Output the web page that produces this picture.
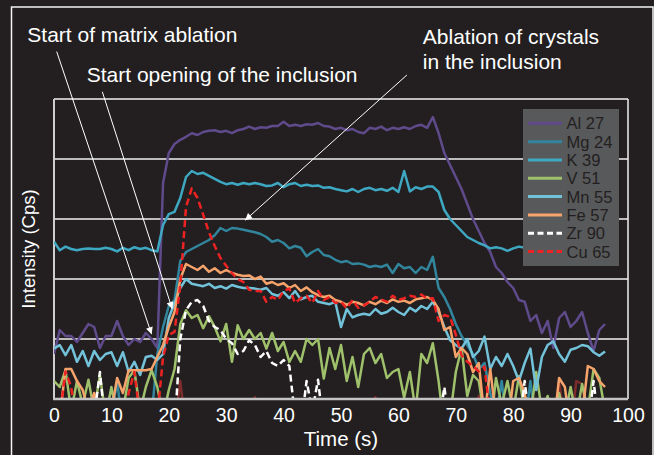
<!DOCTYPE html>
<html>
<head>
<meta charset="utf-8">
<script src="https://cdn.jsdelivr.net/npm/d3@7"></script>
<style>
  body { margin: 0; background: #231f20; }
  svg { display: block; font-family: "Liberation Sans", Arial, Helvetica, sans-serif; }
</style>
</head>
<body>
<script>
const {select, scaleLinear, line, range, axisBottom} = d3;

const width = 654;
const height = 455;
const margin = {top: 99, right: 26, bottom: 56, left: 54};

// time axis (s), one reading per second
const time = range(0, 97);
const xTicks = [0, 10, 20, 30, 40, 50, 60, 70, 80, 90, 100];
// gridlines are decades of cps (log10)
const decades = [0, 1, 2, 3, 4, 5];

// log10 intensity per second; negative = below the axis (no signal)
const al = [
  0.75, 1.15, 1.05, 1.05, 0.95, 1.1, 1.25, 1.2, 0.85, 1.05,
  1.05, 1.3, 1.05, 0.9, 1.0, 0.95, 1.1, 1.0, 0.85, 3.6,
  4.1, 4.25, 4.32, 4.37, 4.43, 4.4, 4.45, 4.47, 4.48, 4.45,
  4.47, 4.43, 4.48, 4.5, 4.54, 4.5, 4.53, 4.52, 4.55, 4.55,
  4.62, 4.55, 4.57, 4.55, 4.58, 4.57, 4.6, 4.55, 4.54, 4.5,
  4.52, 4.48, 4.5, 4.45, 4.43, 4.52, 4.5, 4.54, 4.48, 4.52,
  4.5, 4.53, 4.5, 4.55, 4.57, 4.52, 4.7, 4.43, 4.1, 3.9,
  3.7, 3.5, 3.25, 3.0, 2.8, 2.6, 2.45, 2.2, 2.1, 1.95,
  1.85, 1.65, 1.62, 1.3, 1.4, 1.1, 1.3, 0.85, 1.35, 1.45,
  1.2, 1.3, 1.45, 1.1, 0.8, 1.15, 1.25
];
const mg = [
  -0.5, -0.5, -0.5, -0.5, -0.5, -0.5, -0.5, -0.5, -0.5, -0.5,
  -0.3, 0.3, -0.5, -0.5, -0.5, -0.5, -0.5, -0.3, 0.75, 1.2,
  1.55, 1.65, 2.3, 2.45, 2.5, 2.55, 2.6, 2.65, 2.73, 2.85,
  2.8, 2.85, 2.84, 2.82, 2.8, 2.78, 2.75, 2.7, 2.62, 2.65,
  2.6, 2.51, 2.55, 2.52, 2.38, 2.45, 2.5, 2.4, 2.38, 2.32,
  2.28, 2.3, 2.25, 2.26, 2.24, 2.2, 2.22, 2.2, 2.24, 2.1,
  2.25, 2.18, 2.2, 2.1, 2.2, 2.15, 2.37, 1.85, 1.7, 1.5,
  1.25, 1.05, 0.9, 0.75, 0.5, 0.6, 0.1, -0.3, 0.3, -0.5,
  -0.5, -0.5, -0.5, 0.3, -0.5, -0.5, -0.5, -0.5, -0.5, -0.5,
  -0.5, -0.5, -0.5, -0.5, -0.5, -0.5, -0.5
];
const k = [
  2.62, 2.48, 2.54, 2.5, 2.48, 2.5, 2.51, 2.5, 2.5, 2.52,
  2.5, 2.46, 2.52, 2.48, 2.53, 2.5, 2.52, 2.48, 2.46, 2.9,
  3.08, 3.12, 3.35, 3.7, 3.8, 3.75, 3.77, 3.72, 3.67, 3.62,
  3.58, 3.6, 3.57, 3.6, 3.58, 3.6, 3.58, 3.55, 3.56, 3.6,
  3.53, 3.58, 3.6, 3.55, 3.57, 3.55, 3.56, 3.52, 3.53, 3.5,
  3.48, 3.46, 3.5, 3.45, 3.5, 3.52, 3.48, 3.5, 3.47, 3.52,
  3.45, 3.8, 3.46, 3.53, 3.5, 3.54, 3.54, 3.45, 3.15, 3.0,
  2.9, 2.8, 2.7, 2.65, 2.6, 2.56, 2.51, 2.53, 2.51, 2.47,
  2.51, 2.54, 2.52
];
const v = [
  0.3, 0.2, 0.48, -0.2, 0.3, -0.1, 0.32, -0.2, 0.4, -0.3,
  0.2, -0.3, -0.2, 0.35, 0.48, -0.2, 0.2, 0.48, 0.2, -0.3,
  0.15, 0.5, 1.25, 1.48, 1.35, 1.4, 1.18, 1.38, 1.2, 0.96,
  1.25, 0.62, 1.23, 1.0, 1.15, 1.0, 1.1, 0.84, 1.1, 0.8,
  0.95, 0.62, 0.8, 0.62, 1.0, 0.9, 1.0, 0.34, 0.85, 0.5,
  0.9, 0.3, 0.7, 0.2, 0.75, 0.85, 0.6, 0.75, 0.35, 0.45,
  0.5, 0.02, 0.45, -0.2, 0.75, 0.6, 0.93, 0.3, -0.5, -0.3,
  0.45, 0.85, 0.05, 0.4, 0.3, -0.3, -0.5, 0.35, -0.1, 0.3,
  -0.2, 0.38, -0.2, -0.3, 0.45, -0.2, 0.05, -0.3, 0.1, -0.3,
  0.2, -0.3, 0.25, -0.2, 0.5, 0.35, -0.2
];
const mn = [
  0.84, 0.9, 0.73, 0.9, 0.62, 0.8, 0.55, 0.8, 0.65, 0.75,
  0.78, 0.55, 0.78, 0.45, 0.62, 0.4, 0.7, 0.72, 0.65, 0.75,
  1.35, 1.6, 1.85, 2.0, 1.92, 1.9, 1.88, 1.92, 1.85, 1.88,
  1.84, 1.9, 1.87, 1.85, 1.85, 1.84, 1.82, 1.85, 1.75, 1.72,
  1.78, 1.68, 1.8, 1.66, 1.7, 1.72, 1.62, 1.6, 1.58, 1.62,
  1.2, 1.5, 1.36, 1.4, 1.42, 1.4, 1.5, 1.42, 1.45, 1.52,
  1.45, 1.4, 1.52, 1.46, 1.55, 1.5, 1.62, 1.45, 1.2, 0.98,
  0.9, 0.84, 1.0, 0.7, 0.8, 1.04, 0.5, 0.7, 0.55, 0.75,
  0.55, 0.3, 0.6, 0.84, 0.15, 0.7, 0.9, 0.96, 0.75, 0.62,
  0.82, 0.85, 0.9, 0.88, 0.78, 0.72, 0.79
];
const fe = [
  -0.5, -0.3, 0.5, 0.5, 0.3, 0.15, -0.2, 0.1, -0.3, -0.5,
  -0.2, 0.35, 0.1, 0.48, 0.48, 0.48, 0.48, 0.5, 0.7, 0.9,
  1.2, 1.45, 2.0, 2.25, 2.2, 2.15, 2.22, 2.12, 2.18, 2.1,
  2.15, 2.1, 2.07, 2.05, 2.06, 2.0, 2.04, 1.92, 1.95, 1.9,
  1.93, 1.85, 1.9, 1.8, 1.86, 1.78, 1.73, 1.7, 1.72, 1.65,
  1.62, 1.57, 1.62, 1.6, 1.56, 1.62, 1.58, 1.64, 1.6, 1.66,
  1.62, 1.64, 1.6, 1.66, 1.68, 1.7, 1.65, 1.5, 1.15, 1.2,
  0.7, 0.85, 0.75, 0.45, 0.6, -0.3, 0.5, -0.3, -0.5, -0.5,
  0.3, 0.35, 0.1, -0.5, -0.5, -0.5, -0.5, -0.5, 0.35, 0.2,
  -0.5, -0.5, -0.3, 0.55, 0.5, 0.3, 0.2
];
const zr = [
  -0.5, -0.5, -0.5, -0.5, -0.5, -0.5, -0.5, -0.3, 0.45, -0.5,
  -0.5, -0.5, -0.5, -0.5, -0.5, -0.5, -0.5, -0.5, -0.5, -0.5,
  -0.5, -0.5, 1.0, 1.48, 1.62, 1.65, 1.55, 1.3, 1.2, 1.15,
  1.0, 0.93, 0.75, 0.8, 0.98, 0.9, 0.7, 0.8, 0.6, 0.55,
  0.65, 0.55, -0.3, -0.5, 0.3, -0.2, 0.32, -0.5, -0.5, -0.5,
  -0.5, -0.5, -0.5, -0.5, -0.5, -0.5, -0.5, -0.5, -0.5, -0.5,
  -0.5, -0.5, -0.5, -0.5, -0.5, -0.5, -0.5, -0.5, 0.2, -0.5,
  -0.5, -0.5, -0.5, -0.5, -0.5, -0.5, -0.5, -0.5, -0.5, -0.5,
  -0.5, -0.5, 0.3, -0.5, -0.5, -0.5, -0.5, -0.5, -0.5, -0.5,
  -0.5, -0.5, -0.5, -0.5, 0.3, -0.5, -0.5
];
const cu = [
  -0.5, -0.3, 0.46, 0.2, -0.5, -0.5, -0.5, -0.5, -0.5, -0.5,
  -0.5, -0.5, -0.5, 0.1, 0.45, -0.3, -0.5, -0.5, -0.3, 0.7,
  1.07, 1.12, 1.9, 3.2, 3.51, 3.35, 3.07, 2.78, 2.55, 2.35,
  2.22, 2.1, 2.0, 1.95, 1.82, 1.8, 1.8, 1.62, 1.7, 1.65,
  1.8, 1.84, 1.6, 1.68, 1.72, 1.6, 1.8, 1.65, 1.7, 1.6,
  1.62, 1.51, 1.65, 1.52, 1.56, 1.62, 1.7, 1.66, 1.62, 1.72,
  1.65, 1.68, 1.72, 1.7, 1.74, 1.67, 1.68, 1.3, 1.4, 1.37,
  1.07, 0.73, 0.62, 0.55, 0.46, 0.54, -0.3, -0.5, -0.5, -0.5,
  -0.5, -0.5, -0.5, -0.5, -0.5, -0.5, -0.5, -0.5, -0.5, -0.5,
  -0.5, -0.5, -0.5, -0.5, -0.5, -0.5, -0.5
];
// dark red trace that is not in the legend, mostly under the axis
const unlisted = [
  -0.5, -0.5, -0.5, -0.5, -0.5, -0.5, -0.5, -0.5, -0.5, -0.5,
  -0.5, -0.5, -0.5, -0.5, -0.5, -0.5, -0.5, -0.5, -0.5, -0.5,
  -0.5, -0.5, 0.3, -0.5, -0.5, -0.5, -0.5, -0.5, -0.5, -0.5,
  -0.5, -0.5, -0.5, -0.5, -0.5, 0.03, -0.5, -0.5, -0.5, -0.5,
  -0.5, -0.5, -0.5, -0.5, -0.5, -0.5, -0.5, -0.5, -0.5, -0.5,
  -0.5, -0.5, -0.5, -0.5, -0.5, -0.5, 0.03, -0.5, -0.5, -0.5,
  -0.5, -0.5, -0.5, -0.5, -0.5, -0.5, -0.5, -0.5, -0.5, -0.5,
  -0.5, -0.5, -0.5, -0.5, 0.05, -0.5, -0.5, -0.5, -0.5, -0.5,
  -0.5, -0.5, -0.5, -0.5, -0.5, -0.5, -0.5, -0.5, 0.3, -0.5,
  -0.5, 0.3, 0.25, -0.5, -0.5, -0.5, -0.5
];

const seriesNames = ['Al 27', 'Mg 24', 'K 39', 'V 51', 'Mn 55', 'Fe 57', 'Zr 90', 'Cu 65'];
const seriesValues = [al, mg, k, v, mn, fe, zr, cu];
const seriesColors = ['#5f4a8b', '#31859c', '#3ea8c2', '#9fc16b', '#72c2da', '#f7a36c', '#ffffff', '#ee2222'];
const seriesDashed = [false, false, false, false, false, false, true, true];

// annotations, placed in data units (t, log10 cps)
const notes = [
  {lines: ['Start of matrix ablation'], t: -4.65, v: 5.955, from: [0.47, 5.79], to: [17.0, 1.08]},
  {lines: ['Start opening of the inclusion'], t: 5.7, v: 5.29, from: [8.42, 5.12], to: [20.6, 1.5]},
  {lines: ['Ablation of crystals', 'in the inclusion'], t: 64.26, v: 5.91, from: [61.48, 5.4], to: [33.3, 2.98]}
];

const svg = select('body')
  .append('svg')
  .attr('width', width)
  .attr('height', height);

const x = scaleLinear()
  .domain([0, 100])
  .range([margin.left, width - margin.right]);

const y = scaleLinear()
  .domain([0, 5])
  .range([height - margin.bottom, margin.top]);

// outer frame
svg.append('rect')
  .attr('x', 11.5)
  .attr('y', 7)
  .attr('width', 641.5)
  .attr('height', 470)
  .attr('fill', 'none')
  .attr('stroke', '#f4f4f4')
  .attr('stroke-width', 1.5);

svg.append('defs')
  .append('clipPath')
  .attr('id', 'plot')
  .append('rect')
  .attr('x', x(0))
  .attr('y', y(5))
  .attr('width', x(100) - x(0))
  .attr('height', y(0) - y(5));

svg.append('g')
  .selectAll('line')
  .data(decades.slice(1))
  .enter()
  .append('line')
  .attr('x1', x(0))
  .attr('x2', x(100))
  .attr('y1', d => y(d))
  .attr('y2', d => y(d))
  .attr('stroke', '#f2f2f2')
  .attr('stroke-width', 1.5);

// side borders of the plot
svg.append('g')
  .selectAll('line')
  .data([0, 100])
  .enter()
  .append('line')
  .attr('x1', d => x(d))
  .attr('x2', d => x(d))
  .attr('y1', y(5))
  .attr('y2', y(0))
  .attr('stroke', d => d === 0 ? '#cfcfcf' : '#f2f2f2')
  .attr('stroke-width', d => d === 0 ? 2 : 1.5);

const lineGen = line()
  .defined(d => d != null)
  .x((d, i) => x(time[i]))
  .y(d => y(d));

const plot = svg.append('g').attr('clip-path', 'url(#plot)');

plot.append('path')
  .attr('d', lineGen(unlisted))
  .attr('fill', 'none')
  .attr('stroke', '#7d2b2b')
  .attr('stroke-width', 2.5)
  .attr('stroke-linejoin', 'round');

plot.selectAll('path.series')
  .data(seriesValues)
  .enter()
  .append('path')
  .attr('class', 'series')
  .attr('d', d => lineGen(d))
  .attr('fill', 'none')
  .attr('stroke', (d, i) => seriesColors[i])
  .attr('stroke-width', 2.5)
  .attr('stroke-linejoin', 'round')
  .attr('stroke-dasharray', (d, i) => seriesDashed[i] ? '7,4' : null);

// bottom axis
svg.append('line')
  .attr('x1', x(0) - 1)
  .attr('x2', x(100))
  .attr('y1', y(0))
  .attr('y2', y(0))
  .attr('stroke', '#c4c4c4')
  .attr('stroke-width', 2.5);

const xAxis = svg.append('g')
  .attr('transform', `translate(0,${y(0)})`)
  .call(axisBottom(x).tickValues(xTicks).tickSize(0).tickPadding(9.5));
xAxis.select('.domain').remove();
xAxis.selectAll('text')
  .attr('fill', '#ffffff')
  .style('font-size', '19.5px')
  .style('font-family', '"Liberation Sans", Arial, sans-serif');

svg.append('text')
  .attr('x', (x(0) + x(100)) / 2)
  .attr('y', 446)
  .attr('text-anchor', 'middle')
  .attr('fill', '#ffffff')
  .style('font-size', '20.5px')
  .text('Time (s)');

svg.append('text')
  .attr('transform', `translate(35,${(y(0) + y(5)) / 2}) rotate(-90)`)
  .attr('text-anchor', 'middle')
  .attr('fill', '#ffffff')
  .style('font-size', '18.5px')
  .text('Intensity (Cps)');

// legend
const legend = svg.append('g').attr('transform', 'translate(523,109)');
legend.append('rect')
  .attr('width', 96)
  .attr('height', 157)
  .attr('fill', '#58595b');

const rows = legend.selectAll('g')
  .data(seriesNames)
  .enter()
  .append('g')
  .attr('transform', (d, i) => `translate(0,${14.3 + i * 18.33})`);

rows.append('line')
  .attr('x1', 5)
  .attr('x2', 39)
  .attr('stroke', (d, i) => seriesColors[i])
  .attr('stroke-width', 3)
  .attr('stroke-dasharray', (d, i) => seriesDashed[i] ? '6,3.5' : null);

rows.append('text')
  .attr('x', 43.5)
  .attr('dy', '0.36em')
  .attr('fill', '#231f20')
  .style('font-size', '16.5px')
  .text(d => d);

// annotation arrows and labels
svg.append('defs')
  .append('marker')
  .attr('id', 'head')
  .attr('viewBox', '0 0 10 10')
  .attr('refX', 10)
  .attr('refY', 5)
  .attr('markerWidth', 8)
  .attr('markerHeight', 7)
  .attr('markerUnits', 'userSpaceOnUse')
  .attr('orient', 'auto')
  .append('path')
  .attr('d', 'M0,0L10,5L0,10Z')
  .attr('fill', '#ffffff');

const noteG = svg.append('g')
  .selectAll('g')
  .data(notes)
  .enter()
  .append('g');

noteG.append('line')
  .attr('x1', d => x(d.from[0]))
  .attr('y1', d => y(d.from[1]))
  .attr('x2', d => x(d.to[0]))
  .attr('y2', d => y(d.to[1]))
  .attr('stroke', '#ffffff')
  .attr('stroke-width', 1)
  .attr('marker-end', 'url(#head)');

noteG.append('text')
  .attr('x', d => x(d.t))
  .attr('y', d => y(d.v))
  .attr('fill', '#ffffff')
  .style('font-size', '21px')
  .selectAll('tspan')
  .data(d => d.lines.map(l => ({l, x: x(d.t)})))
  .enter()
  .append('tspan')
  .attr('x', d => d.x)
  .attr('dy', (d, i) => i === 0 ? 0 : 25)
  .text(d => d.l);
</script>
</body>
</html>
